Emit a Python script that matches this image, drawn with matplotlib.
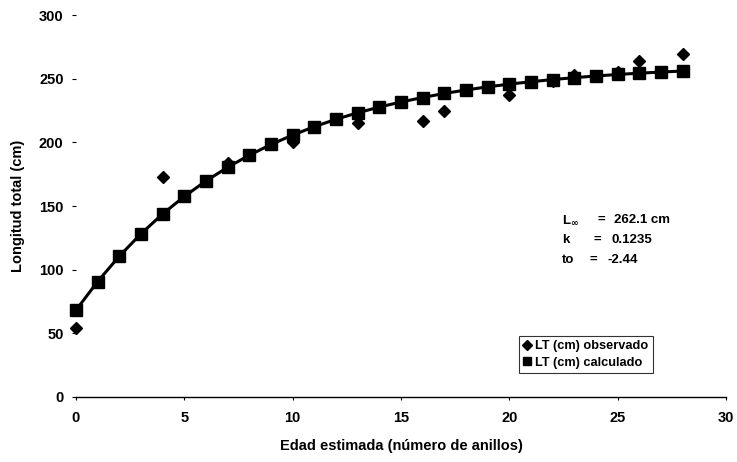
import matplotlib
matplotlib.use("Agg")
import matplotlib.pyplot as plt

plt.rcParams['font.family'] = ['Liberation Sans', 'DejaVu Sans']
plt.rcParams['font.weight'] = 'bold'

# Edad (anillos) y longitud total observada
edad_obs = [0, 4, 7, 10, 13, 16, 17, 20, 22, 23, 25, 26, 28]
lt_obs = [54, 173, 184, 200, 215, 217, 225, 237, 248, 253, 255, 264, 269]

# Longitud total calculada (von Bertalanffy)
edad_calc = list(range(0, 29))
lt_calc = [68.2, 90.7, 110.6, 128.2, 143.8, 157.5, 169.7, 180.4, 189.9, 198.3,
           205.7, 212.3, 218.1, 223.2, 227.7, 231.7, 235.2, 238.4, 241.1, 243.6,
           245.7, 247.6, 249.3, 250.8, 252.1, 253.3, 254.3, 255.2, 256.0]

x_ticks = [0, 5, 10, 15, 20, 25, 30]
y_ticks = [0, 50, 100, 150, 200, 250, 300]

param_names = [r"L$_{\mathbf{\infty}}$", "k", "to"]
param_values = ["262.1 cm", "0.1235", "-2.44"]

fig = plt.figure(figsize=(7.37, 4.62), dpi=100)
ax = fig.add_axes([76 / 737, 1 - 397 / 462, 650 / 737, 382 / 462])

ax.plot(edad_calc, lt_calc, color='black', linewidth=2.2, marker='s',
        markersize=8, label='LT (cm) calculado', zorder=2)
ax.plot(edad_obs, lt_obs, linestyle='none', color='black', marker='D',
        markersize=6, label='LT (cm) observado', zorder=3)

ax.set_xlim(0, 30)
ax.set_ylim(0, 300)
ax.set_xticks(x_ticks)
ax.set_yticks(y_ticks)
ax.tick_params(axis='both', labelsize=10.5, colors='black')
ax.tick_params(axis='y', length=3, width=0.8, pad=6)
ax.tick_params(axis='x', length=2, width=0.8, pad=8)
for side in ('top', 'right', 'left'):
    ax.spines[side].set_visible(False)
ax.spines['bottom'].set_linewidth(1.0)
for line in ax.lines:
    line.set_clip_on(False)

ax.set_xlabel('Edad estimada (número de anillos)', fontsize=10.5, fontweight='bold', labelpad=10)
ax.set_ylabel('Longitud total (cm)', fontsize=10.5, fontweight='bold', labelpad=10)

for i, (name, value) in enumerate(zip(param_names, param_values)):
    y = 1 - (220 + 20 * i) / 462
    fig.text(562 / 737, y, name, fontsize=9.5, fontweight='bold', va='center', ha='left')
    fig.text((598 - 4 * i) / 737, y, "=", fontsize=9.5, fontweight='bold', va='center', ha='left')
    fig.text((614 - 3 * i) / 737, y, value, fontsize=9.5, fontweight='bold', va='center', ha='left')

handles, labels = ax.get_legend_handles_labels()
leg = fig.legend([handles[1], handles[0]], [labels[1], labels[0]],
                 loc='upper left', bbox_to_anchor=(519 / 737, 1 - 336 / 462),
                 fontsize=9.2, frameon=True, fancybox=False, handlelength=0.6,
                 handletextpad=0.3, borderpad=0.35, labelspacing=0.35,
                 borderaxespad=0)
leg.get_frame().set_edgecolor('black')
leg.get_frame().set_linewidth(0.8)
for h in leg.legend_handles:
    h.set_linestyle('none')
    h.set_markersize(5.5)

fig.savefig('out.png', dpi=100)
